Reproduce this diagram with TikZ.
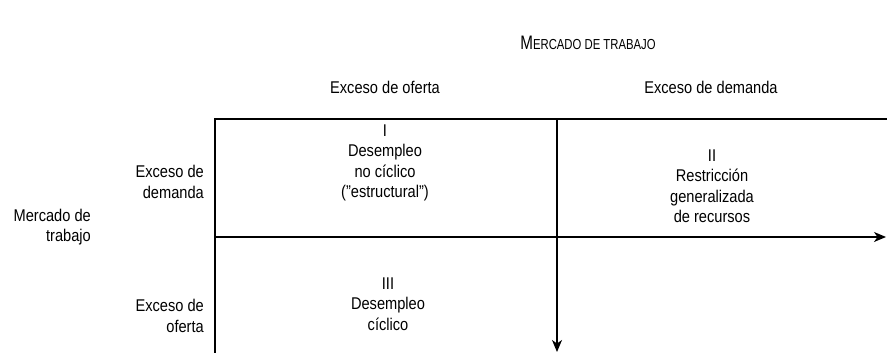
\documentclass[tikz,border=0pt]{standalone}
\usepackage{fontspec}
\setmainfont{Liberation Sans}[FakeStretch=0.86]
\newfontfamily\titlefont{Liberation Sans}[FakeStretch=0.78]
\usetikzlibrary{arrows.meta}

\begin{document}
\begin{tikzpicture}[x=1pt,y=1pt,
    txt/.style={font=\fontsize{17}{20.5}\selectfont, inner sep=0pt},
    cell/.style={txt, align=center},
    rowlab/.style={txt, align=right, anchor=east},
    axis/.style={line width=1.1pt},
    tip/.style={-{Stealth[length=12pt,width=10pt,inset=3.5pt]}}]
    \useasboundingbox (0,0) rectangle (887,353);
    \coordinate (TL) at (215,234);
    \coordinate (TR) at (887,234);
    \coordinate (BL) at (215,0);
    \coordinate (ML) at (215,116);
    \coordinate (MR) at (886,116);
    \coordinate (VT) at (557,234);
    \coordinate (VB) at (557,1);
    % titulo y encabezados
    \node[txt] (titulo) at (588,310) {\titlefont{\fontsize{19.5}{20}\selectfont M}{\fontsize{14.5}{20}\selectfont ERCADO DE TRABAJO}};
    \node[txt] (hOferta) at (385,266) {Exceso de oferta};
    \node[txt] (hDemanda) at (711,266) {Exceso de demanda};
    \node[rowlab] (rDemanda) at (204,171) {Exceso de\\demanda};
    \node[rowlab] (rOferta) at (204,37) {Exceso de\\oferta};
    \node[rowlab] (mercado) at (91,126) {Mercado de\\trabajo};
    % cuadrantes
    \node[cell] (cI) at (385,190) {I\\Desempleo\\no cíclico\\(”estructural”)};
    \node[cell] (cII) at (712,167) {II\\Restricción\\generalizada\\de recursos};
    \node[cell] (cIII) at (388,49) {III\\Desempleo\\cíclico};
    \draw[axis] (BL)--(TL)--(TR);
    \draw[axis,tip] (ML)--(MR);
    \draw[axis,tip] (VT)--(VB);
\end{tikzpicture}
\end{document}
